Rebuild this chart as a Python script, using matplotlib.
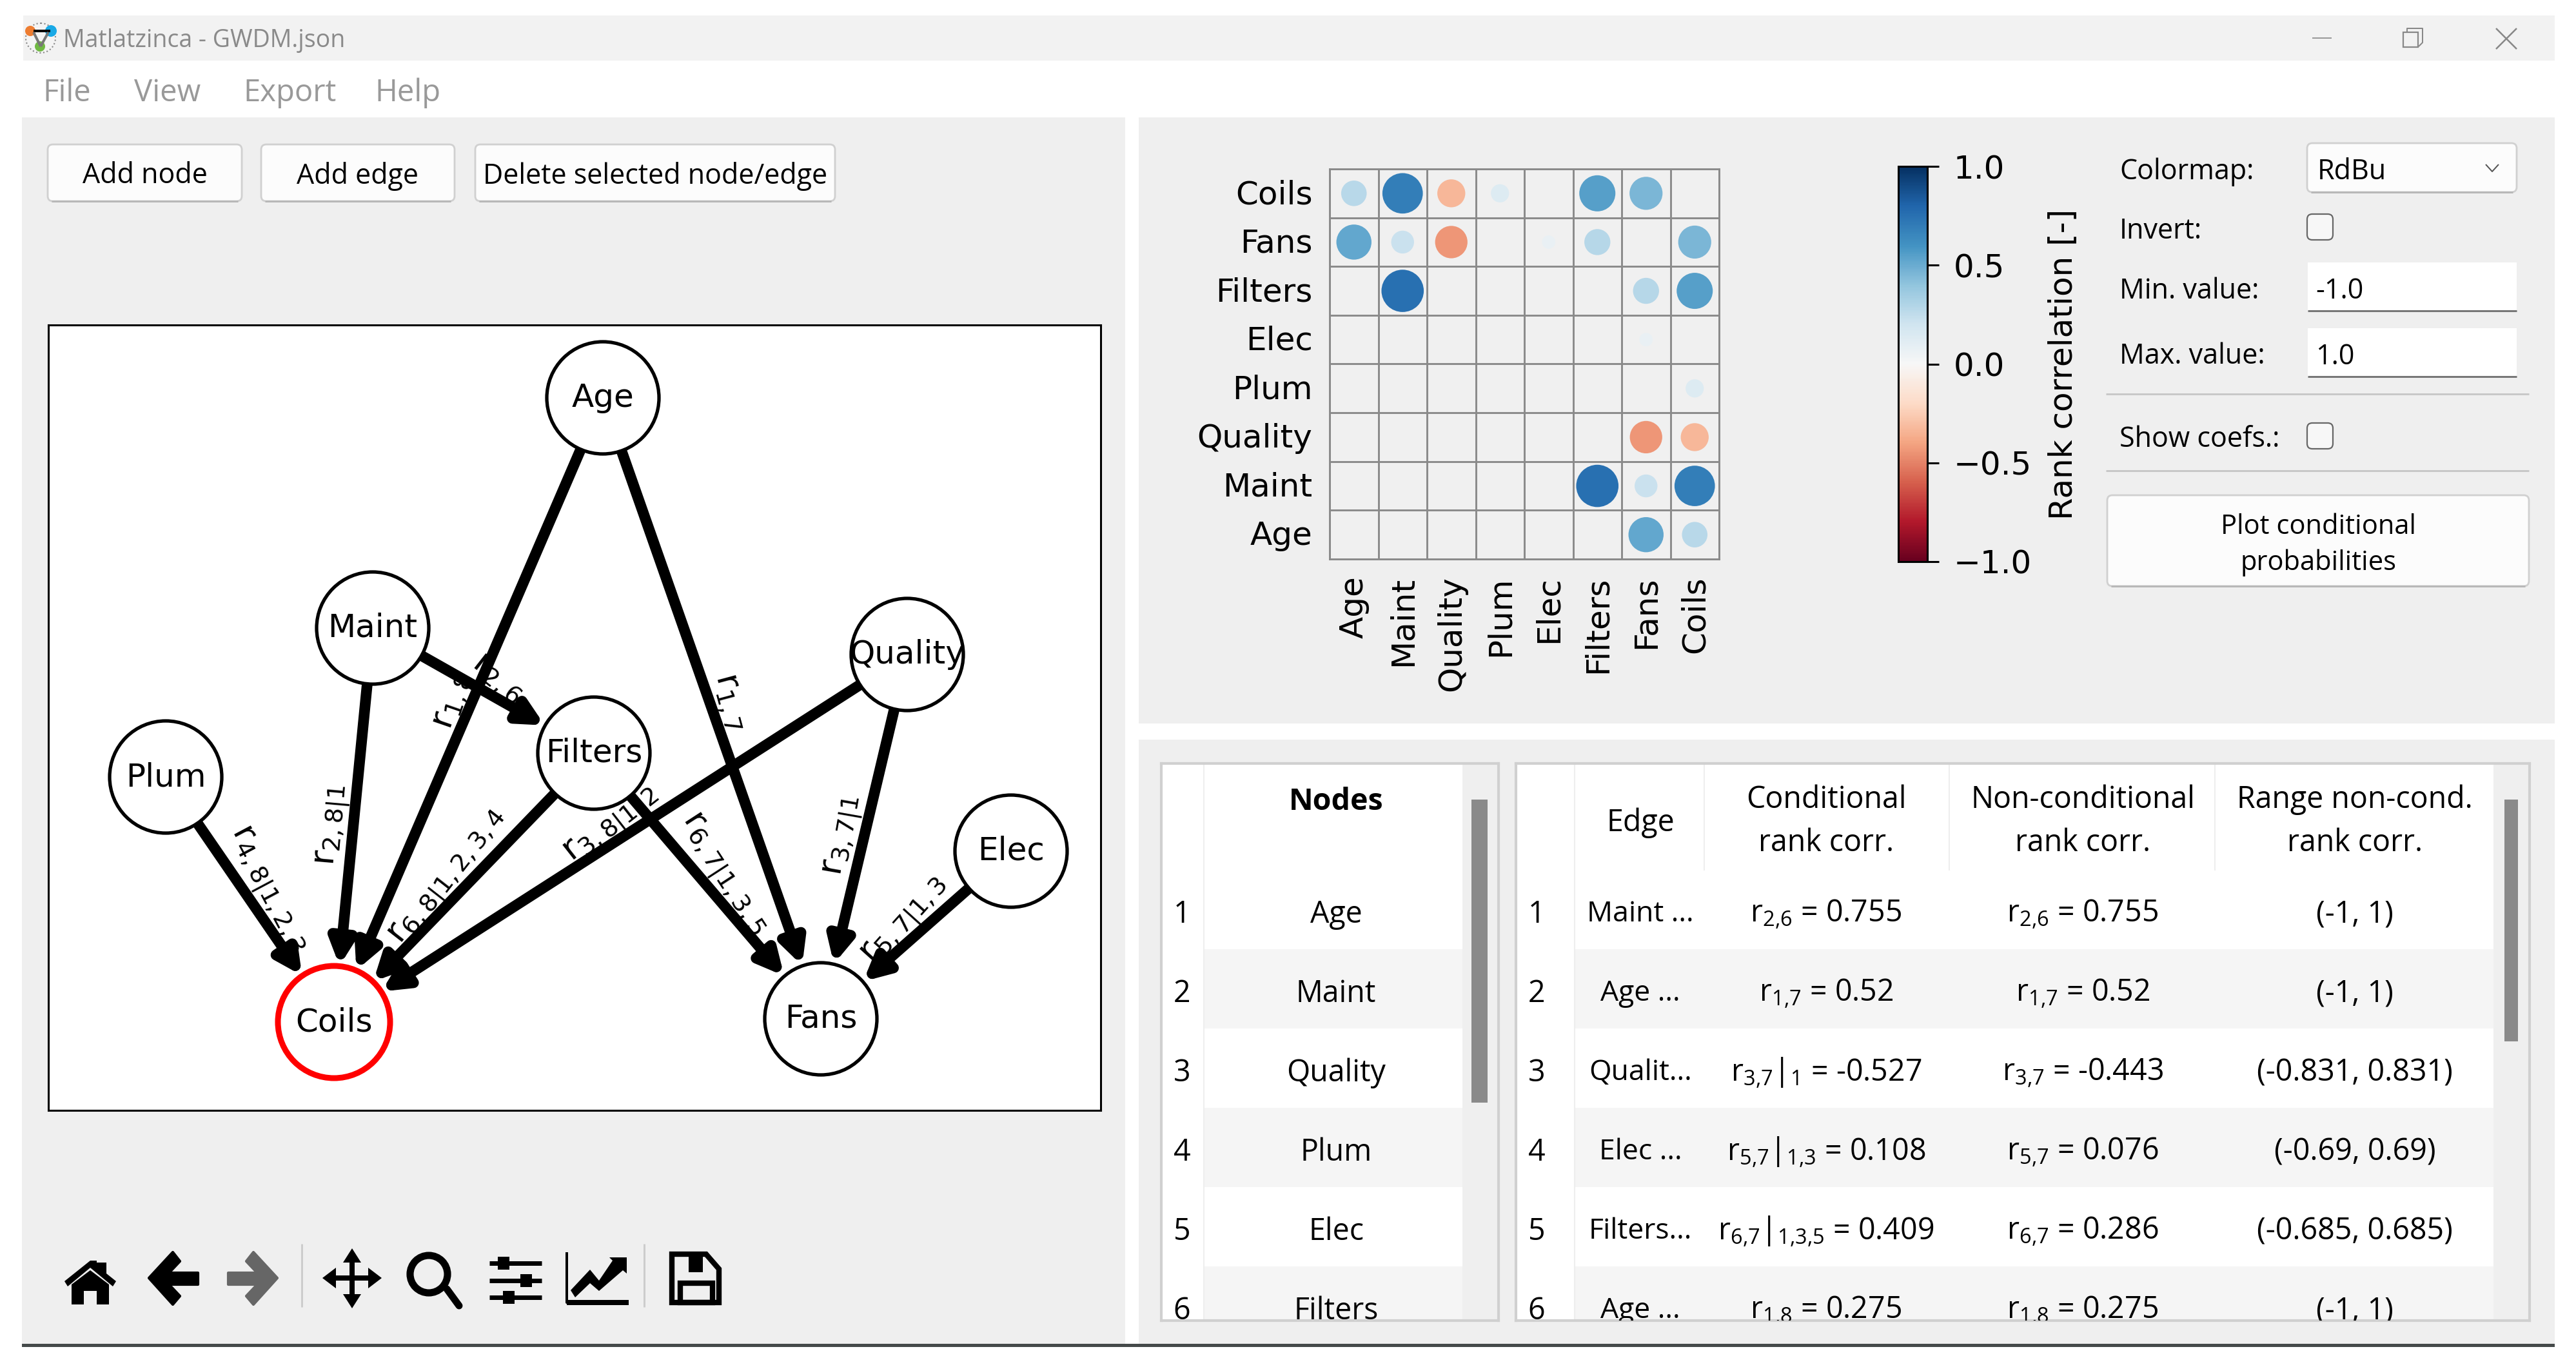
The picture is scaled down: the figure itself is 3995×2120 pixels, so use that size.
import numpy as np
import matplotlib
matplotlib.use('Agg')
import matplotlib.pyplot as plt
from matplotlib.cm import ScalarMappable
from matplotlib.colors import Normalize
from matplotlib.patches import Circle, FancyArrowPatch, FancyBboxPatch, Polygon, Rectangle
from matplotlib.transforms import ScaledTranslation

W, H = 3995, 2120
UI = 'Open Sans'
plt.rcParams['mathtext.default'] = 'regular'

# graph (positions, in screen pixels)
node_names = ['Age', 'Maint', 'Quality', 'Plum', 'Filters', 'Elec', 'Coils', 'Fans']
node_x = [935, 578, 1407, 257, 921, 1568, 518, 1273]
node_y = [617, 974, 1015, 1205, 1168, 1320, 1585, 1580]
edges = [('Age', 'Coils'), ('Age', 'Fans'), ('Maint', 'Coils'), ('Maint', 'Filters'),
         ('Quality', 'Coils'), ('Quality', 'Fans'), ('Plum', 'Coils'), ('Filters', 'Coils'),
         ('Filters', 'Fans'), ('Elec', 'Fans')]
edge_labels = ['1,8', '1,7', '2,8|1', '2,6', '3,8|1,2', '3,7|1', '4,8|1,2,3', '6,8|1,2,3,4', '6,7|1,3,5', '5,7|1,3']
label_x = [702, 1133, 517, 772, 949, 1309, 414, 696, 1121, 1404]
label_y = [1087, 1088, 1280, 1051, 1280, 1296, 1380, 1360, 1356, 1428]
label_rot = [71, -75, 85, -38, 38, 80, -62, 52, -57, 48]

# rank correlation matrix, 0 = no circle
matrix_cols = ['Age', 'Maint', 'Quality', 'Plum', 'Elec', 'Filters', 'Fans', 'Coils']
matrix_rows = ['Coils', 'Fans', 'Filters', 'Elec', 'Plum', 'Quality', 'Maint', 'Age']
corr_coils = [0.275, 0.69, -0.33, 0.14, 0, 0.55, 0.46, 0]
corr_fans = [0.52, 0.22, -0.443, 0, 0.076, 0.286, 0, 0.46]
corr_filters = [0, 0.755, 0, 0, 0, 0, 0.286, 0.55]
corr_elec = [0, 0, 0, 0, 0, 0, 0.076, 0]
corr_plum = [0, 0, 0, 0, 0, 0, 0, 0.14]
corr_quality = [0, 0, 0, 0, 0, 0, -0.443, -0.33]
corr_maint = [0, 0, 0, 0, 0, 0.755, 0.22, 0.69]
corr_age = [0, 0, 0, 0, 0, 0, 0.52, 0.275]
corr = np.array([corr_coils, corr_fans, corr_filters, corr_elec, corr_plum, corr_quality, corr_maint, corr_age])

# tables
node_rows = ['Age', 'Maint', 'Quality', 'Plum', 'Elec', 'Filters']
edge_short = ['Maint ...', 'Age ...', 'Qualit...', 'Elec ...', 'Filters...', 'Age ...']
cond_corr = ['r$_{2{,}6}$ = 0.755', 'r$_{1{,}7}$ = 0.52', 'r$_{3{,}7}$|$_{1}$ = -0.527',
             'r$_{5{,}7}$|$_{1{,}3}$ = 0.108', 'r$_{6{,}7}$|$_{1{,}3{,}5}$ = 0.409', 'r$_{1{,}8}$ = 0.275']
noncond_corr = ['r$_{2{,}6}$ = 0.755', 'r$_{1{,}7}$ = 0.52', 'r$_{3{,}7}$ = -0.443',
                'r$_{5{,}7}$ = 0.076', 'r$_{6{,}7}$ = 0.286', 'r$_{1{,}8}$ = 0.275']
range_corr = ['(-1, 1)', '(-1, 1)', '(-0.831, 0.831)', '(-0.69, 0.69)', '(-0.685, 0.685)', '(-1, 1)']


def px_axes(left, top, right, bottom, **kw):
    return fig.add_axes([left / W, 1 - bottom / H, (right - left) / W, (bottom - top) / H], **kw)


fig = plt.figure(figsize=(W / 100, H / 100), dpi=100, facecolor='white')

# window chrome
bg = px_axes(0, 0, W, H)
bg.set_xlim(0, W)
bg.set_ylim(H, 0)
bg.axis('off')


def rect(x0, y0, x1, y1, color, **kw):
    bg.add_patch(Rectangle((x0, y0), x1 - x0, y1 - y0, fc=color, ec=kw.pop('ec', 'none'), **kw))


def line(xs, ys, color='black', lw=3, **kw):
    bg.plot(xs, ys, color=color, lw=lw * 0.72, solid_capstyle=kw.pop('cap', 'butt'), **kw)


def button(x0, y0, x1, y1):
    bg.add_patch(FancyBboxPatch((x0 + 6, y0 + 6), x1 - x0 - 12, y1 - y0 - 12, boxstyle='round,pad=6,rounding_size=8',
                                fc='#fcfcfc', ec='#d0d0d0', lw=2))
    line([x0 + 6, x1 - 6], [y1, y1], '#b8b8b8', 3)


def ui_text(x, y, s, size=31, color='black', ha='left', **kw):
    bg.text(x, y + 5, s, family=UI, fontsize=size, color=color, ha=ha, va='center', **kw)


rect(36, 24, 3962, 94, '#f2f2f2')
rect(34, 182, 1745, 2084, '#efefef')
rect(1766, 182, 3962, 1122, '#efefef')
rect(1766, 1147, 3962, 2084, '#efefef')
rect(34, 2084, 3962, 2089, '#454a4a')

# app icon
bg.add_patch(Circle((63, 59), 23, fc='#f4f4f4', ec='#888888', lw=1.5, ls=':'))
line([52, 78], [48, 48], 'black', 4)
line([52, 63], [50, 72], '#777777', 4)
line([75, 63], [50, 72], '#777777', 4)
bg.add_patch(Circle((47, 48), 8, fc='#ee7d31', ec='none'))
bg.add_patch(Circle((79, 48), 9, fc='#19a9e6', ec='none'))
bg.add_patch(Circle((62, 72), 8, fc='#70b943', ec='none'))
ui_text(98, 58, 'Matlatzinca - GWDM.json', 27, '#8a8a8a')
for mx, name in zip([66, 208, 377, 581], ['File', 'View', 'Export', 'Help']):
    ui_text(mx, 139, name, 34, '#999999')

# window buttons
line([3586, 3616], [59, 59], '#999999', 2)
bg.add_patch(Rectangle((3727, 50), 23, 23, fc='none', ec='#888888', lw=1.6))
line([3733, 3733, 3757, 3757, 3751], [50, 44, 44, 66, 72], '#888888', 2)
line([3871, 3903], [44, 76], '#888888', 2.5)
line([3871, 3903], [76, 44], '#888888', 2.5)

# push buttons
for x0, x1, name in zip([74, 405, 737], [375, 705, 1295], ['Add node', 'Add edge', 'Delete selected node/edge']):
    button(x0, 224, x1, 312)
    ui_text((x0 + x1) / 2, 268, name, 31, ha='center')

# toolbar, icons drawn in screen pixels
bg.add_patch(Polygon([(100, 1987), (140, 1955), (150, 1955), (150, 1958), (165, 1958), (165, 1975), (180, 1987),
                      (175, 1995), (140, 1966), (105, 1995)], fc='black'))
bg.add_patch(Polygon([(111, 1992), (140, 1970), (169, 1992), (169, 2023), (150, 2023), (150, 2002), (130, 2002),
                      (130, 2023), (111, 2023)], fc='black'))
bg.add_patch(Polygon([(231, 1982), (268, 1942), (279, 1956), (262, 1974), (307, 1974), (307, 1992), (262, 1992),
                      (279, 2010), (268, 2023)], fc='black', joinstyle='round', lw=3, ec='black'))
bg.add_patch(Polygon([(430, 1982), (393, 1942), (382, 1956), (399, 1974), (354, 1974), (354, 1992), (399, 1992),
                      (382, 2010), (393, 2023)], fc='#666666', joinstyle='round', lw=3, ec='#666666'))
line([468, 468], [1929, 2027], '#cccccc', 3)
line([546, 546], [1945, 2020], 'black', 8)
line([510, 582], [1982, 1982], 'black', 8)
for pts in ([(546, 1936), (532, 1958), (560, 1958)], [(546, 2029), (532, 2007), (560, 2007)],
            [(500, 1982), (521, 1966), (521, 1998)], [(592, 1982), (571, 1966), (571, 1998)]):
    bg.add_patch(Polygon(pts, fc='black'))
bg.add_patch(Circle((665, 1976), 29, fc='none', ec='black', lw=8))
line([693, 712], [1999, 2025], 'black', 11, cap='round')
for sy, kx in zip([1959, 1986, 2012], [781, 816, 789]):
    line([759, 840], [sy, sy], 'black', 7)
    rect(kx - 9, sy - 10, kx + 9, sy + 10, 'black')
line([879, 879, 975], [1942, 2020, 2020], 'black', 4)
line([879, 975], [2020, 2020], 'black', 8)
bg.add_patch(Polygon([(885, 2001), (915, 1969), (929, 1986), (950, 1955), (945, 1950), (972, 1950), (972, 1975),
                      (966, 1970), (929, 2002), (915, 1990), (892, 2012)], fc='black'))
line([999, 999], [1929, 2027], '#cccccc', 3)
bg.add_patch(Polygon([(1042, 1945), (1095, 1945), (1115, 1968), (1115, 2020), (1042, 2020)], fc='none', ec='black', lw=6))
rect(1068, 1947, 1090, 1973, 'black')
bg.add_patch(Rectangle((1055, 1990), 50, 30, fc='none', ec='black', lw=6))

# graph
ax_g = px_axes(75, 504, 1707, 1722, facecolor='white')
ax_g.set_xlim(75, 1707)
ax_g.set_ylim(1722, 504)
ax_g.set_xticks([])
ax_g.set_yticks([])
for sp in ax_g.spines.values():
    sp.set_linewidth(2.2)
pos = dict(zip(node_names, zip(node_x, node_y)))
for lbl, lx, ly, rot in zip(edge_labels, label_x, label_y, label_rot):
    ax_g.text(lx, ly, 'r$_{' + lbl + '}$', fontsize=39, rotation=rot, rotation_mode='anchor',
              ha='center', va='center', zorder=1)
for a, b in edges:
    ax_g.add_patch(FancyArrowPatch(pos[a], pos[b], arrowstyle='-|>', mutation_scale=55, color='black',
                                   lw=12, shrinkA=62, shrinkB=63, zorder=2))
for name, nx, ny in zip(node_names, node_x, node_y):
    is_target = name == 'Coils'
    ax_g.add_patch(Circle((nx, ny), 87, fc='white', ec='red' if is_target else 'black',
                          lw=6.5 if is_target else 3.8, zorder=3))
    ax_g.text(nx, ny, name, fontsize=36, ha='center', va='center', zorder=4)

# correlation matrix
ax_m = px_axes(2062, 262, 2666, 867, facecolor='#f0f0f0')
norm = Normalize(-1, 1)
cell_pt = 75.5 * 0.72
ix, iy = np.nonzero(corr.T)
vals = corr.T[ix, iy]
ax_m.scatter(ix, iy, s=np.abs(vals) * cell_pt ** 2, c=vals, cmap='RdBu', norm=norm, linewidths=0, zorder=3)
ax_m.set_xlim(-0.5, 7.5)
ax_m.set_ylim(7.5, -0.5)
ax_m.set_xticks(range(8), matrix_cols, rotation=90)
ax_m.set_yticks(range(8), matrix_rows)
ax_m.set_xticks(np.arange(-0.5, 8), minor=True)
ax_m.set_yticks(np.arange(-0.5, 8), minor=True)
ax_m.grid(which='minor', color='#8a8a8a', lw=2.1)
ax_m.tick_params(which='both', length=0)
ax_m.tick_params(which='major', labelsize=36, pad=19)
for lab in ax_m.get_yticklabels():
    lab.set_transform(lab.get_transform() + ScaledTranslation(0, 2 / 72, fig.dpi_scale_trans))
for sp in ax_m.spines.values():
    sp.set_color('#8a8a8a')
    sp.set_linewidth(2.1)

# colour bar
ax_c = px_axes(2944, 258, 2989, 871)
cb = fig.colorbar(ScalarMappable(norm=norm, cmap='RdBu'), cax=ax_c, ticks=[-1, -0.5, 0, 0.5, 1])
cb.ax.tick_params(labelsize=36, length=13, width=2.2, pad=16)
cb.outline.set_linewidth(2.2)
bg.text(3200, 565, 'Rank correlation [-]', fontsize=36, rotation=90, ha='center', va='center')

# colormap controls
for ly, name in zip([262, 354, 447, 548, 677], ['Colormap:', 'Invert:', 'Min. value:', 'Max. value:', 'Show coefs.:']):
    ui_text(3287, ly, name, 31)
button(3578, 222, 3903, 298)
ui_text(3594, 262, 'RdBu', 31)
line([3855, 3865, 3875], [255, 266, 255], '#555555', 2)
for y0 in (332, 656):
    bg.add_patch(FancyBboxPatch((3582, y0 + 4), 32, 32, boxstyle='round,pad=4,rounding_size=8', fc='#f7f7f7', ec='#666666', lw=1.6))
for y0, val in zip([407, 509], ['-1.0', '1.0']):
    rect(3579, y0, 3903, y0 + 75, 'white')
    line([3579, 3903], [y0 + 75, y0 + 75], '#777777', 3)
    ui_text(3591, y0 + 40, val, 31)
line([3266, 3922], [611, 611], '#c8c8c8', 3)
line([3266, 3922], [730, 730], '#c8c8c8', 3)
button(3268, 768, 3922, 909)
ui_text(3595, 812, 'Plot conditional', 30, ha='center')
ui_text(3595, 868, 'probabilities', 30, ha='center')


# tables
def table_axes(left, top, right, bottom):
    t = px_axes(left, top, right, bottom, facecolor='white')
    t.set_xlim(left, right)
    t.set_ylim(bottom, top)
    t.set_xticks([])
    t.set_yticks([])
    for sp in t.spines.values():
        sp.set_color('#d0d0d0')
        sp.set_linewidth(3)
    return t


def tbl_text(t, x, y, s, **kw):
    t.text(x, y, s, family=UI, fontsize=kw.pop('size', 33.5), ha='center', va='center', clip_on=True, **kw)


row_tops = [1349, 1472, 1595, 1718, 1841, 1964]
row_h = 123

ax_n = table_axes(1801, 1184, 2324, 2048)
ax_n.add_patch(Rectangle((2268, 1184), 60, 870, fc='#efefef'))
ax_n.add_patch(Rectangle((2282, 1240), 25, 470, fc='#8a8a8a'))
ax_n.plot([1867, 1867], [1184, 2048], color='#eeeeee', lw=1.5)
tbl_text(ax_n, 2072, 1243, 'Nodes', fontweight='bold')
for i, name in enumerate(node_rows):
    if i % 2:
        ax_n.add_patch(Rectangle((1867, row_tops[i]), 401, row_h, fc='#f5f5f5'))
    tbl_text(ax_n, 1833, row_tops[i] + 69, str(i + 1))
    tbl_text(ax_n, 2072, row_tops[i] + 69, name)

ax_e = table_axes(2351, 1184, 3923, 2048)
ax_e.add_patch(Rectangle((3867, 1184), 60, 870, fc='#efefef'))
ax_e.add_patch(Rectangle((3884, 1240), 21, 375, fc='#8a8a8a'))
ax_e.plot([2442, 2442], [1184, 2048], color='#eeeeee', lw=1.5)
for sx in (2643, 3023, 3435):
    ax_e.plot([sx, sx], [1184, 1349], color='#eeeeee', lw=1.5)
tbl_text(ax_e, 2544, 1276, 'Edge')
tbl_text(ax_e, 2832, 1240, 'Conditional')
tbl_text(ax_e, 2832, 1307, 'rank corr.')
tbl_text(ax_e, 3230, 1240, 'Non-conditional')
tbl_text(ax_e, 3230, 1307, 'rank corr.')
tbl_text(ax_e, 3652, 1240, 'Range non-cond.')
tbl_text(ax_e, 3652, 1307, 'rank corr.')
for i in range(6):
    if i % 2:
        ax_e.add_patch(Rectangle((2442, row_tops[i]), 1425, row_h, fc='#f5f5f5'))
    cy = row_tops[i] + 69
    tbl_text(ax_e, 2383, cy, str(i + 1))
    tbl_text(ax_e, 2544, cy, edge_short[i], size=32)
    tbl_text(ax_e, 2832, cy, cond_corr[i])
    tbl_text(ax_e, 3230, cy, noncond_corr[i])
    tbl_text(ax_e, 3652, cy, range_corr[i])

fig.savefig('out.png', dpi=100, facecolor='white')
